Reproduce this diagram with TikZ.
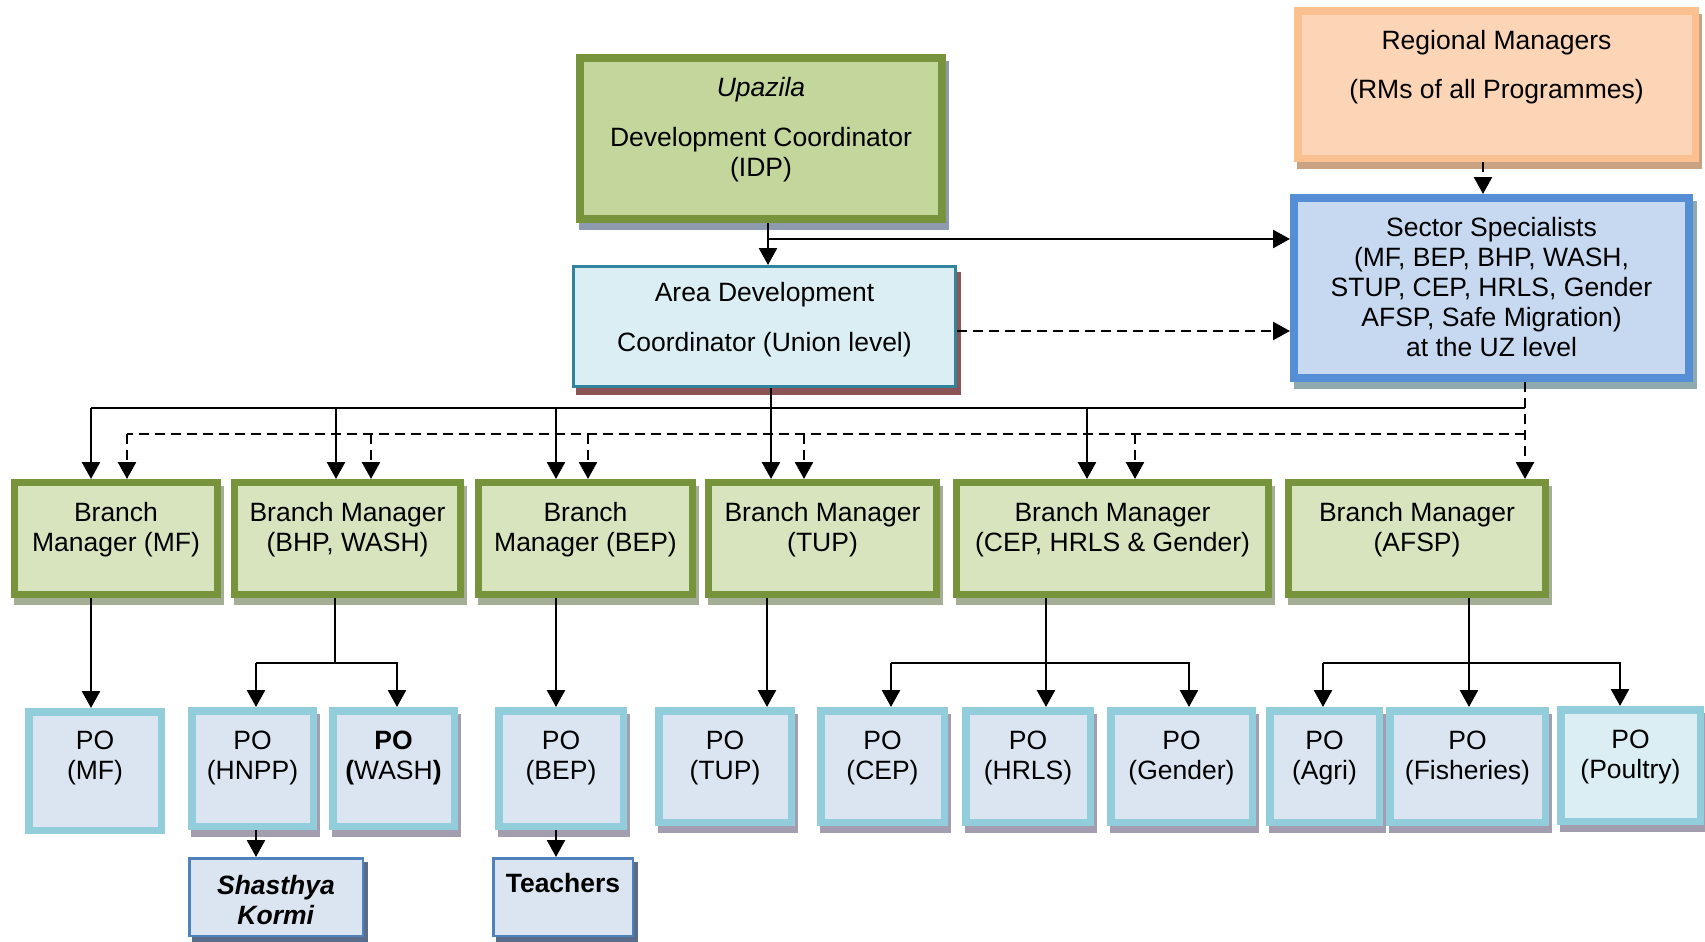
\documentclass[tikz,border=0pt]{standalone}
\usepackage{fontspec}
\setmainfont{Liberation Sans}
\usetikzlibrary{arrows.meta,shadows}
\definecolor{idpF}{HTML}{C3D69B}
\definecolor{idpB}{HTML}{77933C}
\definecolor{idpS}{HTML}{8E9AAF}
\definecolor{adcF}{HTML}{DAEEF3}
\definecolor{adcB}{HTML}{31849B}
\definecolor{adcS}{HTML}{8C5555}
\definecolor{rmF}{HTML}{FBD5B5}
\definecolor{rmB}{HTML}{FAC090}
\definecolor{rmS}{HTML}{C9A183}
\definecolor{ssF}{HTML}{C6D9F1}
\definecolor{ssB}{HTML}{558ED5}
\definecolor{ssS}{HTML}{8FA9B0}
\definecolor{bmF}{HTML}{D7E4BD}
\definecolor{bmB}{HTML}{77933C}
\definecolor{bmS}{HTML}{A4AE94}
\definecolor{poF}{HTML}{DBE5F1}
\definecolor{poB}{HTML}{92CDDC}
\definecolor{poS}{HTML}{A39DB0}
\definecolor{plF}{HTML}{DAEEF3}
\definecolor{skF}{HTML}{DBE5F1}
\definecolor{skB}{HTML}{4F81BD}
\definecolor{skS}{HTML}{5B6C8A}
\begin{document}
\begin{tikzpicture}[x=0.5pt,y=-0.5pt,
  font=\fontsize{13.25pt}{15pt}\selectfont,
  ln/.style={line width=1.3pt},
  arr/.style={line width=1.3pt,-{Triangle[width=9pt,length=8.5pt]}},
  dln/.style={line width=1.3pt,dash pattern=on 5pt off 3pt},
  darr/.style={arr,dash pattern=on 5pt off 3pt},
  txt/.style={align=center,inner sep=0pt},
  shad/.style n args={4}{drop shadow={shadow xshift=#1,shadow yshift=#2,opacity=1,fill=#3,draw=#3,line width=#4}},
  box/.style={rectangle,inner sep=0pt},
  idpbox/.style={box,fill=idpF,draw=idpB,line width=4pt,shad={1.5pt}{-3.5pt}{idpS}{4pt}},
  rmbox/.style={box,fill=rmF,draw=rmB,line width=3.75pt,shad={1.5pt}{-3.5pt}{rmS}{3.75pt}},
  ssbox/.style={box,fill=ssF,draw=ssB,line width=4pt,shad={2pt}{-3.5pt}{ssS}{4pt}},
  adcbox/.style={box,fill=adcF,draw=adcB,line width=1.5pt,shad={2pt}{-3.5pt}{adcS}{1.5pt}},
  bmbox/.style={box,fill=bmF,draw=bmB,line width=3.5pt,minimum height=56pt,shad={1.5pt}{-3.5pt}{bmS}{3.5pt}},
  pobase/.style={box,fill=poF,draw=poB,line width=3.75pt},
  pobox/.style={pobase,shad={1.5pt}{-3.5pt}{poS}{3.75pt}},
  skbox/.style={box,fill=skF,draw=skB,line width=1.25pt,minimum height=38.75pt,shad={2pt}{-2.5pt}{skS}{1.25pt}}
]
\useasboundingbox (0,0) rectangle (1705,942);

% top level
\node[idpbox,minimum width=181pt,minimum height=80.5pt] (idp) at (761,138.5) {};
\node[txt] (idpT) at (761,129.6) {\textit{Upazila}\\[10pt]Development Coordinator\\(IDP)};
\node[rmbox,minimum width=198.75pt,minimum height=73.75pt] (rm) at (1496.5,84.5) {};
\node[txt] (rmT) at (1496.5,67) {Regional Managers\\[9.5pt](RMs of all Programmes)};
\node[ssbox,minimum width=197.5pt,minimum height=90pt] (ss) at (1491.5,288) {};
\node[txt] (ssT) at (1491.5,287) {Sector Specialists\\(MF, BEP, BHP, WASH,\\STUP, CEP, HRLS, Gender\\AFSP, Safe Migration)\\at the UZ level};
\node[adcbox,minimum width=191pt,minimum height=60pt] (adc) at (764.5,326.5) {};
\node[txt] (adcT) at (764.5,319.6) {Area Development\\[10pt]Coordinator (Union level)};

% branch managers
\node[bmbox,minimum width=101.5pt] (bm1) at (116,538.5) {};
\node[txt] (bm1T) at (116,529.6) {Branch\\Manager (MF)};
\node[bmbox,minimum width=113pt] (bm2) at (347.5,538.5) {};
\node[txt] (bm2T) at (347.5,529.6) {Branch Manager\\(BHP, WASH)};
\node[bmbox,minimum width=107pt] (bm3) at (585.5,538.5) {};
\node[txt] (bm3T) at (585.5,529.6) {Branch\\Manager (BEP)};
\node[bmbox,minimum width=114pt] (bm4) at (822.5,538.5) {};
\node[txt] (bm4T) at (822.5,529.6) {Branch Manager\\(TUP)};
\node[bmbox,minimum width=156pt] (bm5) at (1112.5,538.5) {};
\node[txt] (bm5T) at (1112.5,529.6) {Branch Manager\\(CEP, HRLS \& Gender)};
\node[bmbox,minimum width=128.5pt] (bm6) at (1417,538.5) {};
\node[txt] (bm6T) at (1417,529.6) {Branch Manager\\(AFSP)};

% programme organisers
\node[pobase,minimum width=66.25pt,minimum height=59.25pt] (poMF) at (95,771) {};
\node[txt] (poMFT) at (95,758) {PO\\(MF)};
\node[pobox,minimum width=60.75pt,minimum height=57.75pt] (poHNPP) at (252.5,768.5) {};
\node[txt] (poHNPPT) at (252.5,758) {PO\\(HNPP)};
\node[pobox,minimum width=60.75pt,minimum height=57.75pt] (poWASH) at (393.5,768.5) {};
\node[txt] (poWASHT) at (393.5,758) {\textbf{PO}\\\textbf{(}WASH\textbf{)}};
\node[pobox,minimum width=62.25pt,minimum height=57.75pt] (poBEP) at (561,768.5) {};
\node[txt] (poBEPT) at (561,758) {PO\\(BEP)};
\node[pobox,minimum width=66.25pt,minimum height=55.75pt] (poTUP) at (725,766.5) {};
\node[txt] (poTUPT) at (725,758) {PO\\(TUP)};
\node[pobox,minimum width=61.75pt,minimum height=55.75pt] (poCEP) at (882.5,766.5) {};
\node[txt] (poCEPT) at (882.5,758) {PO\\(CEP)};
\node[pobox,minimum width=62.25pt,minimum height=55.75pt] (poHRLS) at (1028,766.5) {};
\node[txt] (poHRLST) at (1028,758) {PO\\(HRLS)};
\node[pobox,minimum width=70.75pt,minimum height=55.75pt] (poGender) at (1181.5,766.5) {};
\node[txt] (poGenderT) at (1181.5,758) {PO\\(Gender)};
\node[pobox,minimum width=54.75pt,minimum height=55.75pt] (poAgri) at (1324.5,766.5) {};
\node[txt] (poAgriT) at (1324.5,758) {PO\\(Agri)};
\node[pobox,minimum width=77.75pt,minimum height=55.75pt] (poFish) at (1467.5,766.5) {};
\node[txt] (poFishT) at (1467.5,758) {PO\\(Fisheries)};
\node[pobox,fill=plF,minimum width=69.75pt,minimum height=55.75pt] (poPoultry) at (1630.5,765.5) {};
\node[txt] (poPoultryT) at (1630.5,757) {PO\\(Poultry)};

% bottom
\node[skbox,minimum width=86.75pt] (sk) at (276,897) {};
\node[txt] (skT) at (276,899.8) {\textbf{\textit{Shasthya}}\\\textbf{\textit{Kormi}}};
\node[skbox,minimum width=69.75pt] (teach) at (563,897) {};
\node[txt] (teachT) at (563,883) {\textbf{Teachers}};

% top connectors
\coordinate (jIdp) at (768,239);
\draw[arr] (idp.south -| jIdp) -- (adc.north -| jIdp);
\draw[arr] (jIdp) -- (jIdp -| ss.west);
\draw[darr] ([yshift=-2.25pt]adc.east) -- ([yshift=-2.25pt]adc.east -| ss.west);
\draw[darr] ([xshift=-6.75pt]rm.south) -- ([xshift=-6.75pt]rm.south |- ss.north);

% solid distribution from ADC
\coordinate (s1) at (91,408);
\coordinate (s2) at (336,408);
\coordinate (s3) at (556,408);
\coordinate (s4) at (771,408);
\coordinate (s5) at (1087,408);
\coordinate (s6) at (1525,408);
\draw[ln] (s1) -- (s6);
\draw[arr] (adc.south -| s4) -- (s4 |- bm4.north);
\draw[arr] (s1) -- (s1 |- bm1.north);
\draw[arr] (s2) -- (s2 |- bm2.north);
\draw[arr] (s3) -- (s3 |- bm3.north);
\draw[arr] (s5) -- (s5 |- bm5.north);

% dashed distribution from sector specialists
\coordinate (d1) at (127,434);
\coordinate (d2) at (371,434);
\coordinate (d3) at (588,434);
\coordinate (d4) at (804,434);
\coordinate (d5) at (1135,434);
\coordinate (d6) at (1525,434);
\draw[darr] (ss.south -| d6) -- (d6 |- bm6.north);
\draw[dln] (d6) -- (d1);
\draw[darr] (d1) -- (d1 |- bm1.north);
\draw[darr] (d2) -- (d2 |- bm2.north);
\draw[darr] (d3) -- (d3 |- bm3.north);
\draw[darr] (d4) -- (d4 |- bm4.north);
\draw[darr] (d5) -- (d5 |- bm5.north);

% branch managers to POs
\coordinate (b2L) at (256,663);
\coordinate (b2R) at (397,663);
\coordinate (b5L) at (891,663);
\coordinate (b5R) at (1189,663);
\coordinate (b6L) at (1323,663);
\coordinate (b6R) at (1620,663);
\draw[arr] ([xshift=-12.5pt]bm1.south) -- ([xshift=-12.5pt]bm1.south |- poMF.north);
\draw[ln] ([xshift=-6.25pt]bm2.south) -- ([xshift=-6.25pt]bm2.south |- b2L);
\draw[arr] (b2L) -- (b2L |- poHNPP.north);
\draw[arr] (b2L) -| (poWASH.north -| b2R);
\draw[arr] ([xshift=-14.75pt]bm3.south) -- ([xshift=-14.75pt]bm3.south |- poBEP.north);
\draw[arr] ([xshift=-27.75pt]bm4.south) -- ([xshift=-27.75pt]bm4.south |- poTUP.north);
\draw[arr] ([xshift=-33.25pt]bm5.south) -- ([xshift=-33.25pt]bm5.south |- poHRLS.north);
\draw[arr] (b5L) -- (b5L |- poCEP.north);
\draw[arr] (b5L) -| (poGender.north -| b5R);
\draw[arr] ([xshift=26pt]bm6.south) -- ([xshift=26pt]bm6.south |- poFish.north);
\draw[arr] (b6L) -- (b6L |- poAgri.north);
\draw[arr] (b6L) -| (poPoultry.north -| b6R);

% POs to field staff
\draw[arr] (poHNPP.south -| b2L) -- (sk.north -| b2L);
\draw[arr] (poBEP.south -| s3) -- (teach.north -| s3);
\end{tikzpicture}
\end{document}
